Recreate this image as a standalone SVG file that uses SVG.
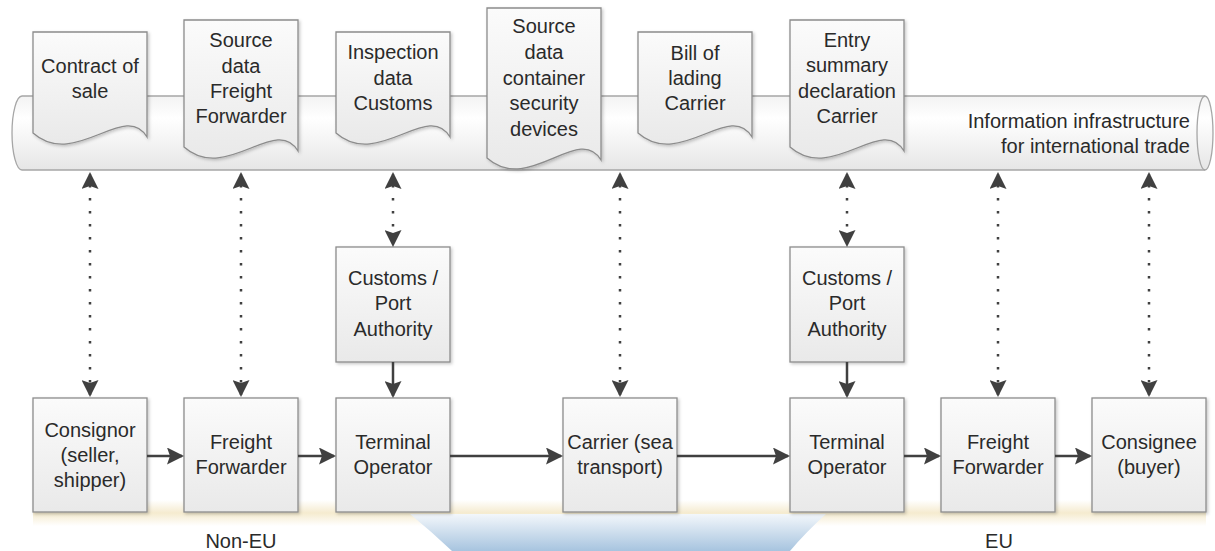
<svg xmlns="http://www.w3.org/2000/svg" width="1215" height="551" viewBox="0 0 1215 551">
<defs>
<linearGradient id="gBox" x1="0" y1="0" x2="0" y2="1"><stop offset="0" stop-color="#fbfbfb"/><stop offset="1" stop-color="#e9e9e9"/></linearGradient>
<linearGradient id="gCyl" x1="0" y1="0" x2="0" y2="1"><stop offset="0" stop-color="#f3f3f3"/><stop offset="0.3" stop-color="#ffffff"/><stop offset="1" stop-color="#e6e6e6"/></linearGradient>
<linearGradient id="gBand" x1="0" y1="0" x2="0" y2="1"><stop offset="0" stop-color="#f5ebcf" stop-opacity="0"/><stop offset="0.5" stop-color="#f5ebcf"/><stop offset="1" stop-color="#f5ebcf" stop-opacity="0"/></linearGradient>
<linearGradient id="gSea" x1="0" y1="0" x2="0" y2="1"><stop offset="0" stop-color="#f3f7fb"/><stop offset="1" stop-color="#a7c4df"/></linearGradient>
<filter id="sh" x="-10%" y="-10%" width="130%" height="130%"><feDropShadow dx="1.5" dy="1.5" stdDeviation="1.5" flood-color="#000" flood-opacity="0.22"/></filter>
<marker id="ah" markerUnits="userSpaceOnUse" markerWidth="17" markerHeight="17" refX="15" refY="8.5" orient="auto-start-reverse"><path d="M0,0 L17,8.5 L0,17 L3,8.5 Z" fill="#404040"/></marker>
<style>
.box{fill:url(#gBox);stroke:#8c8c8c;stroke-width:1.3;filter:url(#sh)}
.t{font-family:"Liberation Sans",Arial,sans-serif;font-size:20px;fill:#2a2a2a;text-anchor:middle}
.solid{stroke:#404040;stroke-width:2.5;fill:none;marker-end:url(#ah)}
.dot{stroke:#404040;stroke-width:2.5;fill:none;stroke-dasharray:2.5 10.5;stroke-dashoffset:2;marker-start:url(#ah);marker-end:url(#ah)}
</style>
</defs>
<rect width="1215" height="551" fill="#ffffff"/>
<g id="regions">
<rect x="33" y="500" width="1173" height="26" fill="url(#gBand)"/>
<path d="M410,514 L826,514 Q806,532 790,551 L452,551 Q432,532 410,514 Z" fill="url(#gSea)"/>
<text class="t" x="241" y="548">Non-EU</text>
<text class="t" x="999" y="548">EU</text>
</g>
<g id="infrastructure">
<path d="M22,96 H1205 A8,37 0 0 1 1205,170 H22 A10,37 0 0 1 22,96 Z" fill="url(#gCyl)" stroke="#a6a6a6" stroke-width="1.3"/>
<path d="M1205,96 A8,37 0 0 0 1205,170" fill="none" stroke="#a6a6a6" stroke-width="1.3"/>
<text class="t" style="text-anchor:end" x="1190" y="128">Information infrastructure</text>
<text class="t" style="text-anchor:end" x="1190" y="153">for international trade</text>
</g>
<g id="doc-contract">
<path class="box" d="M33,32 H147 V137 C125,100 75,170 33,133 Z"/>
<text class="t" x="90" y="73">Contract of</text><text class="t" x="90" y="98">sale</text>
</g>
<g id="doc-freight">
<path class="box" d="M184,20 H298 V151 C276,114 226,184 184,147 Z"/>
<text class="t" x="241" y="47">Source</text><text class="t" x="241" y="73">data</text><text class="t" x="241" y="98">Freight</text><text class="t" x="241" y="123">Forwarder</text>
</g>
<g id="doc-inspection">
<path class="box" d="M336,32 H450 V137 C428,100 378,170 336,133 Z"/>
<text class="t" x="393" y="59">Inspection</text><text class="t" x="393" y="85">data</text><text class="t" x="393" y="110">Customs</text>
</g>
<g id="doc-container">
<path class="box" d="M487,8 H601 V160 C579,123 529,195 487,158 Z"/>
<text class="t" x="544" y="33">Source</text><text class="t" x="544" y="59">data</text><text class="t" x="544" y="85">container</text><text class="t" x="544" y="110">security</text><text class="t" x="544" y="136">devices</text>
</g>
<g id="doc-bill">
<path class="box" d="M638,32 H752 V137 C730,100 680,170 638,133 Z"/>
<text class="t" x="695" y="60">Bill of</text><text class="t" x="695" y="85">lading</text><text class="t" x="695" y="110">Carrier</text>
</g>
<g id="doc-entry">
<path class="box" d="M790,20 H904 V151 C882,114 832,184 790,147 Z"/>
<text class="t" x="847" y="47">Entry</text><text class="t" x="847" y="72">summary</text><text class="t" x="847" y="98">declaration</text><text class="t" x="847" y="123">Carrier</text>
</g>
<g id="customs1">
<rect class="box" x="336" y="247" width="114" height="115"/>
<text class="t" x="393" y="285">Customs /</text><text class="t" x="393" y="310">Port</text><text class="t" x="393" y="336">Authority</text>
</g>
<g id="customs2">
<rect class="box" x="790" y="247" width="114" height="115"/>
<text class="t" x="847" y="285">Customs /</text><text class="t" x="847" y="310">Port</text><text class="t" x="847" y="336">Authority</text>
</g>
<g id="consignor">
<rect class="box" x="33" y="398" width="114" height="114"/>
<text class="t" x="90" y="437">Consignor</text><text class="t" x="90" y="462">(seller,</text><text class="t" x="90" y="487">shipper)</text>
</g>
<g id="forwarder1">
<rect class="box" x="184" y="398" width="114" height="114"/>
<text class="t" x="241" y="449">Freight</text><text class="t" x="241" y="474">Forwarder</text>
</g>
<g id="terminal1">
<rect class="box" x="336" y="398" width="114" height="114"/>
<text class="t" x="393" y="449">Terminal</text><text class="t" x="393" y="474">Operator</text>
</g>
<g id="carrier">
<rect class="box" x="563" y="398" width="114" height="114"/>
<text class="t" x="620" y="449">Carrier (sea</text><text class="t" x="620" y="474">transport)</text>
</g>
<g id="terminal2">
<rect class="box" x="790" y="398" width="114" height="114"/>
<text class="t" x="847" y="449">Terminal</text><text class="t" x="847" y="474">Operator</text>
</g>
<g id="forwarder2">
<rect class="box" x="941" y="398" width="114" height="114"/>
<text class="t" x="998" y="449">Freight</text><text class="t" x="998" y="474">Forwarder</text>
</g>
<g id="consignee">
<rect class="box" x="1092" y="398" width="114" height="114"/>
<text class="t" x="1149" y="449">Consignee</text><text class="t" x="1149" y="474">(buyer)</text>
</g>
<g id="connectors">
<path class="dot" d="M90,174 V395"/>
<path class="dot" d="M241,174 V395"/>
<path class="dot" d="M393,174 V245"/>
<path class="dot" d="M620,174 V395"/>
<path class="dot" d="M847,174 V245"/>
<path class="dot" d="M998,174 V395"/>
<path class="dot" d="M1149,174 V395"/>
<path class="solid" d="M393,362 V396"/>
<path class="solid" d="M847,362 V396"/>
<path class="solid" d="M147,456 H182"/>
<path class="solid" d="M298,456 H334"/>
<path class="solid" d="M450,456 H561"/>
<path class="solid" d="M677,456 H788"/>
<path class="solid" d="M904,456 H939"/>
<path class="solid" d="M1055,456 H1090"/>
</g>
</svg>
